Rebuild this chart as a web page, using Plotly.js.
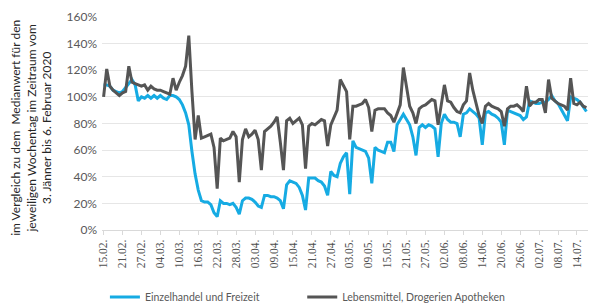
<!DOCTYPE html>
<html>
<head>
<meta charset="utf-8">
<script src="https://cdn.plot.ly/plotly-3.0.1.min.js"></script>
<style>
  html, body { margin: 0; padding: 0; background: #fff; }
  #chart { width: 590px; height: 305px; }
</style>
</head>
<body>
<div id="chart"></div>
<script>
// First day of the daily series (15.02.2020), one value per day
const startDate = '2020-02-15';

// Einzelhandel und Freizeit (% of weekday median), daily from 15.02.
const retail = [
  109,109,108,105,104,103,104,107,110,113,
  109,97,100,99,101,99,101,99,101,99,
  98,101,101,100,98,94,88,79,59,42,
  30,22,21,21,19,13,10,22,20,20,
  19,20,17,12,22,24,24,23,21,18,
  17,26,26,25,25,24,22,16,34,37,
  36,35,32,26,15,39,39,39,37,36,
  33,26,44,41,40,50,55,58,27,67,
  62,61,60,59,54,35,62,60,59,58,
  66,66,59,79,83,87,83,79,70,56,
  77,79,77,79,78,76,55,80,87,83,
  81,81,80,70,87,88,91,89,87,84,
  64,88,89,87,86,84,81,64,90,89,
  88,87,86,83,85,97,96,95,95,96,
  96,98,101,97,95,91,87,82,100,99,
  98,96,92,89
];

// Lebensmittel, Drogerien Apotheken (% of weekday median), daily from 15.02.
const grocery = [
  100,121,108,105,103,101,103,104,123,111,
  110,109,108,109,105,108,106,105,105,104,
  103,102,114,105,111,116,123,146,104,68,
  86,69,70,71,72,62,31,69,67,68,
  69,74,70,36,68,76,70,72,75,68,
  45,74,76,78,81,85,66,45,82,84,
  80,82,84,79,46,78,80,79,81,83,
  82,63,79,84,90,113,108,104,68,93,
  93,94,95,98,92,74,90,91,91,91,
  88,86,81,88,94,122,107,93,88,80,
  91,93,94,96,98,97,79,94,109,97,
  96,92,89,88,94,97,118,105,96,86,
  80,93,95,93,92,91,89,78,91,93,
  93,94,92,89,108,93,96,96,98,98,
  88,113,99,97,95,94,93,90,114,95,
  94,96,93,92
];

// X tick positions and labels
const tickDates = [
  '2020-02-15','2020-02-21','2020-02-27','2020-03-04','2020-03-10','2020-03-16',
  '2020-03-22','2020-03-28','2020-04-03','2020-04-09','2020-04-15','2020-04-21',
  '2020-04-27','2020-05-03','2020-05-09','2020-05-15','2020-05-21','2020-05-27',
  '2020-06-02','2020-06-08','2020-06-14','2020-06-20','2020-06-26','2020-07-02',
  '2020-07-08','2020-07-14'
];
const tickLabels = [
  '15.02.','21.02.','27.02.','04.03.','10.03.','16.03.',
  '22.03.','28.03.','03.04.','09.04.','15.04.','21.04.',
  '27.04.','03.05.','09.05.','15.05.','21.05.','27.05.',
  '02.06.','08.06.','14.06.','20.06.','26.06.','02.07.',
  '08.07.','14.07.'
];

const seriesNames = ['Einzelhandel und Freizeit', 'Lebensmittel, Drogerien Apotheken'];
const yTitle = 'im Vergleich zu dem  Medianwert für den<br>jeweiligen Wochentag im Zeitraum vom<br>3. Jänner bis 6. Februar 2020';

// build day categories from the start date
const t0 = Date.parse(startDate + 'T00:00:00Z');
const days = retail.map((_, i) => new Date(t0 + i * 86400000).toISOString().slice(0, 10));

const traces = [
  { x: days, y: retail, type: 'scatter', mode: 'lines', name: seriesNames[0],
    line: { color: '#16ABE3', width: 3 }, legend: 'legend' },
  { x: days, y: grocery, type: 'scatter', mode: 'lines', name: seriesNames[1],
    line: { color: '#555555', width: 3 }, legend: 'legend2' }
];

const legendFont = { size: 10.5, color: '#595959', family: 'Lato, "Liberation Sans", sans-serif' };

const layout = {
  width: 590, height: 305,
  margin: { l: 102, r: 2, t: 17, b: 75, autoexpand: false },
  paper_bgcolor: '#ffffff', plot_bgcolor: '#ffffff',
  font: { family: 'Lato, "Liberation Sans", sans-serif', color: '#595959', size: 11 },
  showlegend: true,
  legend: {
    orientation: 'h', x: 0.006, xanchor: 'left', y: -0.315, yanchor: 'middle',
    font: legendFont, bgcolor: 'rgba(0,0,0,0)'
  },
  legend2: {
    orientation: 'h', x: 0.412, xanchor: 'left', y: -0.315, yanchor: 'middle',
    font: legendFont, bgcolor: 'rgba(0,0,0,0)'
  },
  xaxis: {
    type: 'date',
    range: ['2020-02-14 12:00', '2020-07-17 12:00'],
    tickmode: 'array', tickvals: tickDates, ticktext: tickLabels,
    tickangle: -90,
    tickfont: { family: '"Liberation Serif", "DejaVu Serif", serif', size: 11.5, color: '#505050' },
    ticks: 'outside', ticklen: 4, tickcolor: '#d9d9d9',
    showgrid: false, showline: true, linecolor: '#d9d9d9', linewidth: 1,
    zeroline: false, fixedrange: true
  },
  yaxis: {
    range: [0, 160], dtick: 20, ticksuffix: '%',
    tickfont: { size: 12, color: '#595959' }, ticklabelstandoff: 4,
    showgrid: true, gridcolor: '#e6e6e6', gridwidth: 1,
    zeroline: false, showline: false, ticks: '', fixedrange: true
  },
  annotations: [{
    text: yTitle, xref: 'paper', yref: 'paper',
    x: -0.146, y: 0.48, xanchor: 'center', yanchor: 'middle',
    textangle: -90, showarrow: false,
    font: { size: 12, color: '#262626', family: 'Lato, "Liberation Sans", sans-serif' }
  }]
};

Plotly.newPlot('chart', traces, layout, { displayModeBar: false, staticPlot: true });
</script>
</body>
</html>
